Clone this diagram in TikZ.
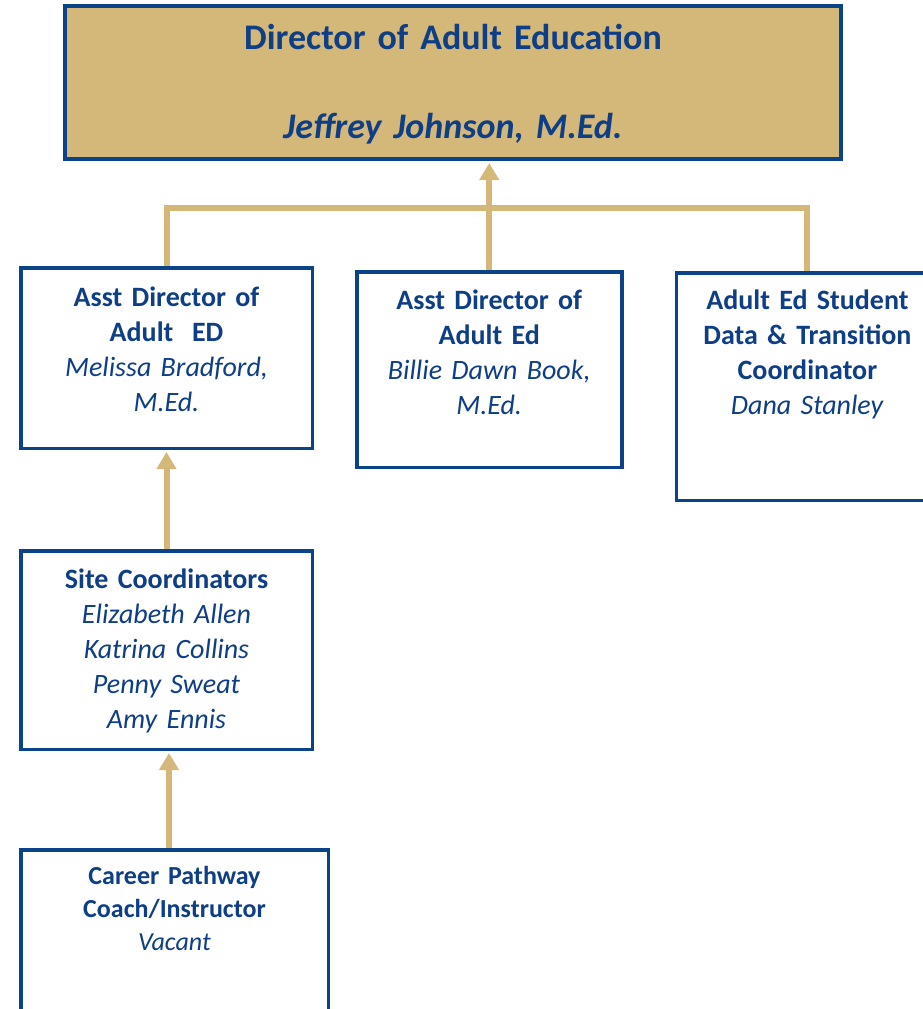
\documentclass[tikz,border=0pt]{standalone}
\usepackage{fontspec}
\setmainfont{Carlito}
\usetikzlibrary{arrows.meta,calc}
\definecolor{navy}{HTML}{0B4388}
\definecolor{navytext}{HTML}{0E3E85}
\definecolor{gold}{HTML}{D4B87A}
\begin{document}
\begin{tikzpicture}[x=1pt,y=-1pt,
  box/.style={draw=navy,line width=3.5pt,fill=white,rectangle,inner sep=0pt},
  topbox/.style={draw=navy,line width=4pt,fill=gold,rectangle,inner sep=0pt},
  txt/.style={anchor=base,align=center,inner sep=0pt,text=navytext,text width=300pt},
  big/.style={font=\fontsize{28}{35}\selectfont},
  small/.style={font=\fontsize{26}{33}\selectfont},
  conn/.style={draw=gold,line width=6pt},
  upar/.style={conn,-{Triangle[width=19pt,length=17pt]},shorten >=2pt}]
\useasboundingbox (0,0) rectangle (923,1009);
\clip (0,0) rectangle (923,1009);
% boxes
\node[topbox,minimum width=776pt,minimum height=153pt] (top) at (453,82.5) {};
\node[box,minimum width=291.5pt,minimum height=180.5pt] (b1) at (166.5,358) {};
\node[box,minimum width=265pt,minimum height=195.5pt] (b2) at (489.25,369.5) {};
\node[box,minimum width=261.5pt,minimum height=227.5pt] (b3) at (807.4,386.5) {};
\node[box,minimum width=291.5pt,minimum height=198.5pt] (site) at (166.5,650) {};
\node[box,minimum width=307.5pt,minimum height=190pt] (career) at (174.5,945) {};
% texts
\node[txt,text width=700pt,font=\fontsize{36}{89}\selectfont] (ttop) at ($(top.north)+(0,45.5)$)
  {\textbf{Director of Adult Education}\\\textbf{\textit{Jeffrey Johnson, M.Ed.}}};
\node[txt,big] (t1) at ($(b1.north)+(0,40.25)$)
  {\textbf{Asst Director of}\\\textbf{Adult~~ED}\\\textit{Melissa Bradford,}\\\textit{M.Ed.}};
\node[txt,big] (t2) at ($(b2.north)+(0,39.25)$)
  {\textbf{Asst Director of}\\\textbf{Adult Ed}\\\textit{Billie Dawn Book,}\\\textit{M.Ed.}};
\node[txt,big] (t3) at ($(b3.north)+(0,38.25)$)
  {\textbf{Adult Ed Student}\\\textbf{Data \& Transition}\\\textbf{Coordinator}\\\textit{Dana Stanley}};
\node[txt,big] (ts) at ($(site.north)+(0,39.25)$)
  {\textbf{Site Coordinators}\\\textit{Elizabeth Allen}\\\textit{Katrina Collins}\\\textit{Penny Sweat}\\\textit{Amy Ennis}};
\node[txt,small] (tc) at ($(career.north)+(0,36.25)$)
  {\textbf{Career Pathway}\\\textbf{Coach/Instructor}\\\textit{Vacant}};
% connectors
\coordinate (hm) at (489.25,208);
\draw[conn] (b1.north) |- (hm) -| (b3.north);
\draw[upar] (b2.north) -- (b2.north |- top.south);
\draw[upar] (site.north) -- (b1.south);
\draw[upar] ([xshift=-5.5pt]career.north) -- ([xshift=2.5pt]site.south);
\end{tikzpicture}
\end{document}
